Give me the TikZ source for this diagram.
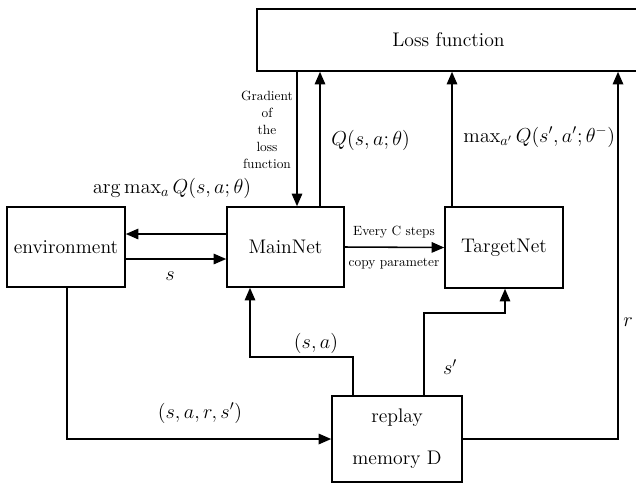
\documentclass[tikz,border=0pt]{standalone}
\usepackage{amsmath}
\usetikzlibrary{arrows.meta}

\begin{document}
\begin{tikzpicture}[x=0.025cm, y=-0.025cm, >={Triangle[length=9pt,width=7.5pt]},
  line width=1.1pt, every node/.style={font=\fontsize{14}{17}\selectfont},
  box/.style={draw, minimum width=2.95cm, minimum height=2cm, inner sep=2pt},
  note/.style={font=\fontsize{9.5}{12}\selectfont, inner sep=1pt}]
\useasboundingbox (0,0) rectangle (636,482);
\node[box, minimum width=9.575cm, minimum height=1.55cm] (loss) at (448.5,40) {Loss function};
\node[box] (env) at (66,247) {environment};
\node[box, minimum width=2.925cm] (main) at (285.5,247) {MainNet};
\node[box, minimum height=2.025cm] (target) at (504,247.5) {TargetNet};
\node[box, minimum width=3.25cm, minimum height=2.15cm, align=center] (replay) at (397,439) {replay\\[13pt]memory D};
\coordinate (gx) at (297,0);
\coordinate (qx) at (320,0);
\coordinate (tx) at (452,0);
\coordinate (rx) at (618,0);
\coordinate (ay) at (0,234);
\coordinate (sy) at (0,259);
\coordinate (ex) at (67,440);
\coordinate (sax) at (353,357);
\coordinate (sa) at (250,357);
\coordinate (spx) at (424,313);
\coordinate (sp) at (505,313);
\draw[->] (loss.south -| gx) -- (main.north -| gx);
\draw[->] (main.north -| qx) -- (loss.south -| qx);
\draw[->] (target.north -| tx) -- (loss.south -| tx);
\draw[->] (replay.east) -| (loss.south -| rx);
\draw[->] (main.west |- ay) -- (env.east |- ay);
\draw[->] (env.east |- sy) -- (main.west |- sy);
\draw[->] (main.east) -- (target.west);
\draw[->] (env.south -| ex) |- (replay.west);
\draw[->] (replay.north -| sax) -- (sax) -- (sa) -- (main.south -| sa);
\draw[->] (replay.north -| spx) -- (spx) -- (sp) -- (target.south -| sp);
\node[note, align=center, anchor=east] (grad) at (295,130) {Gradient\\of\\the\\loss\\function};
\node[anchor=west] (qlab) at (326,140) {$Q(s,a;\theta)$};
\node[anchor=west] (tlab) at (458,137) {$\max\nolimits_{a'} Q(s',a';\theta^-)$};
\node (alab) at (172,188) {$\arg\max\nolimits_a Q(s,a;\theta)$};
\node (slab) at (170,276) {$s$};
\node[note] (every) at (394,232) {Every C steps};
\node[note] (copy) at (394,264) {copy parameter};
\node (salab) at (316,343) {$(s,a)$};
\node (splab) at (450,367) {$s'$};
\node[anchor=west] (rlab) at (618,322) {$r$};
\node (tuple) at (200,413) {$(s,a,r,s')$};
\end{tikzpicture}
\end{document}
